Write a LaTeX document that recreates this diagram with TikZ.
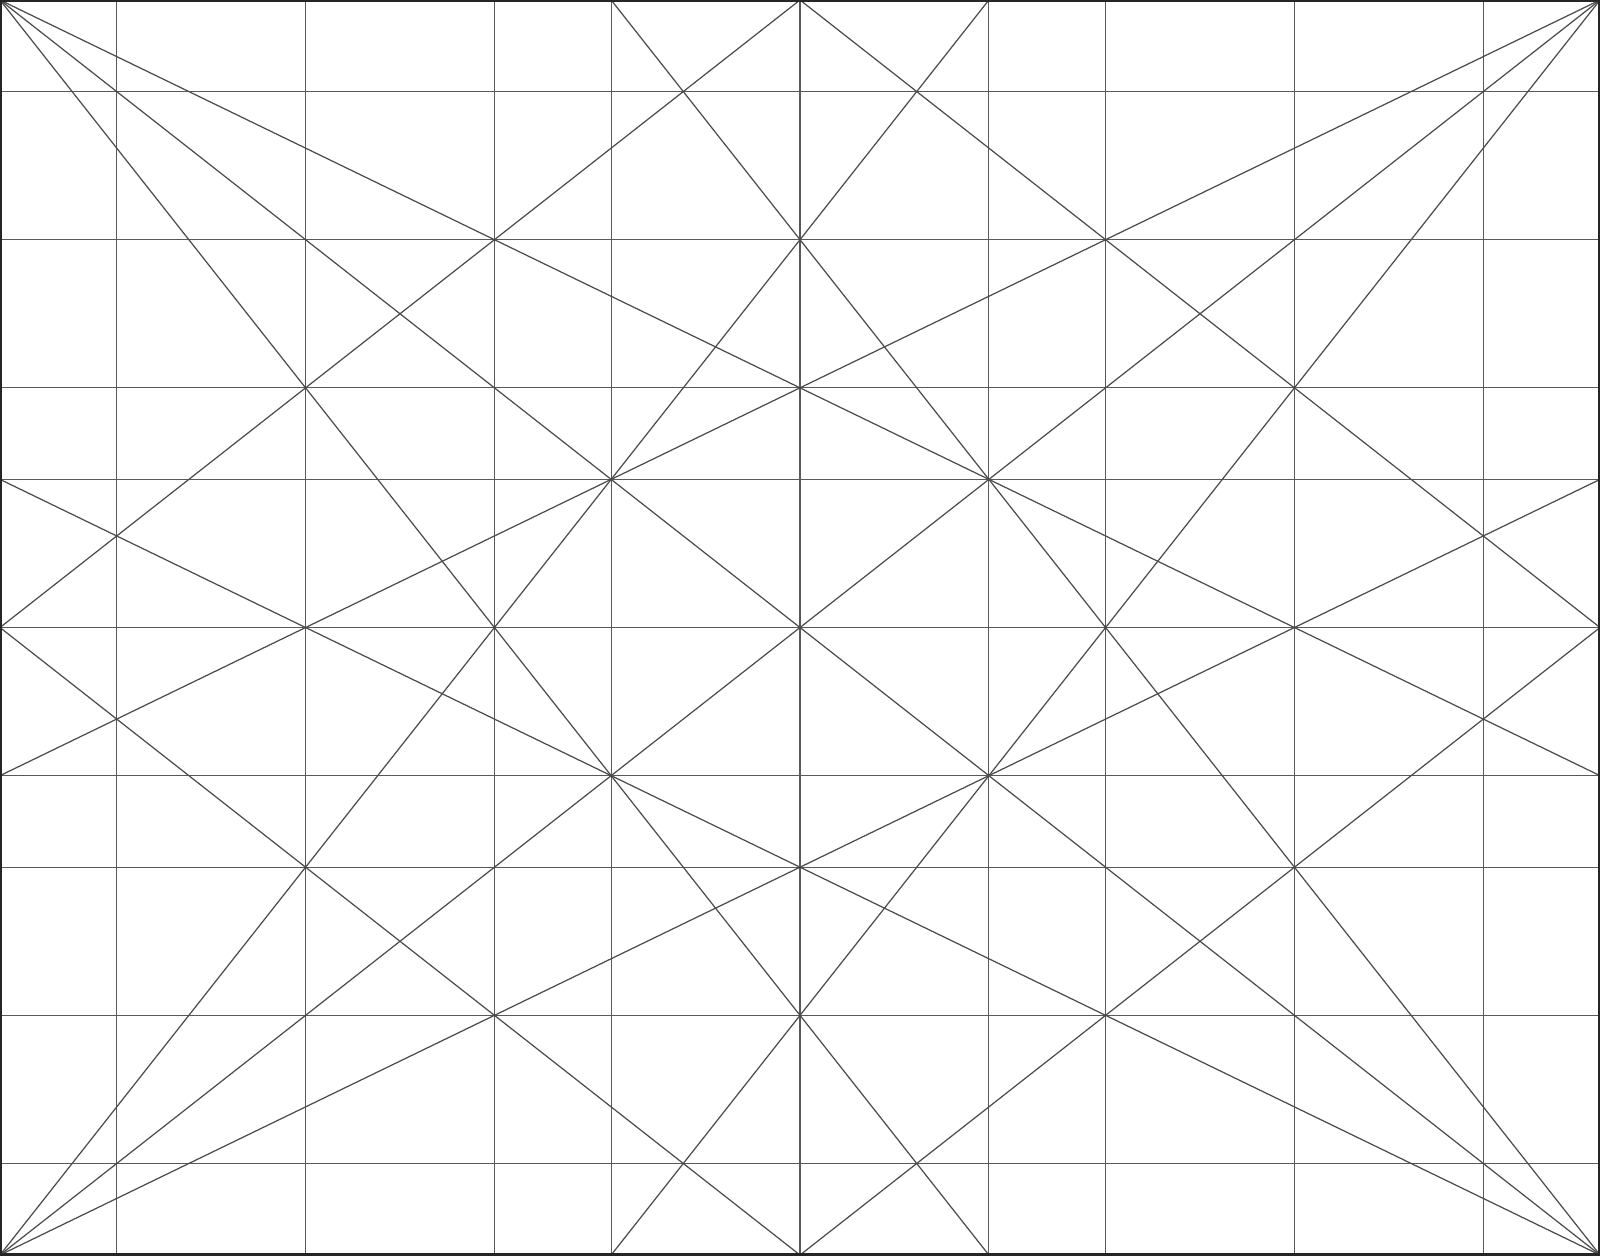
\documentclass[tikz,border=0pt]{standalone}
\usepackage{tikz}
\usetikzlibrary{calc}

\begin{document}
\begin{tikzpicture}[x=1.16719cm,y=-0.91551cm]
	\tikzstyle{frame} = [draw,line width=1.3pt,color=black!85]
	\tikzstyle{grid} = [draw,line width=0.35pt,color=black!65]
	\tikzstyle{ray} = [draw,line width=0.35pt,color=black!70]
	\def\gr{1.618034}
	% golden ratio cuts: a b b a b b a b b a
	\foreach \v [count=\i from 0] in {0,1,1+\gr,1+2*\gr,2+2*\gr,2+3*\gr,2+4*\gr,3+4*\gr,3+5*\gr,3+6*\gr,4+6*\gr}{
		\coordinate (X\i) at (\v,0);
		\coordinate (Y\i) at (0,\v);
	}
	\useasboundingbox (X0 |- Y0) rectangle (X10 |- Y10);
	% grid
	\foreach \i in {1,...,9}{
		\draw[grid] (X\i |- Y0) -- (X\i |- Y10);
		\draw[grid] (X0 |- Y\i) -- (X10 |- Y\i);
	}
	% rays from the corners
	\draw[ray] (X0 |- Y0) -- (X10 |- Y10);
	\draw[ray] (X10 |- Y0) -- (X0 |- Y10);
	\draw[ray] (X0 |- Y0) -- (X10 |- Y6);
	\draw[ray] (X0 |- Y0) -- (X6 |- Y10);
	\draw[ray] (X10 |- Y0) -- (X0 |- Y6);
	\draw[ray] (X10 |- Y0) -- (X4 |- Y10);
	\draw[ray] (X0 |- Y10) -- (X10 |- Y4);
	\draw[ray] (X0 |- Y10) -- (X6 |- Y0);
	\draw[ray] (X10 |- Y10) -- (X0 |- Y4);
	\draw[ray] (X10 |- Y10) -- (X4 |- Y0);
	% diamond
	\draw[ray] (X5 |- Y0) -- (X10 |- Y5) -- (X5 |- Y10) -- (X0 |- Y5) -- cycle;
	% outer frame
	\draw[frame] (X0 |- Y0) rectangle (X10 |- Y10);
\end{tikzpicture}
\end{document}
